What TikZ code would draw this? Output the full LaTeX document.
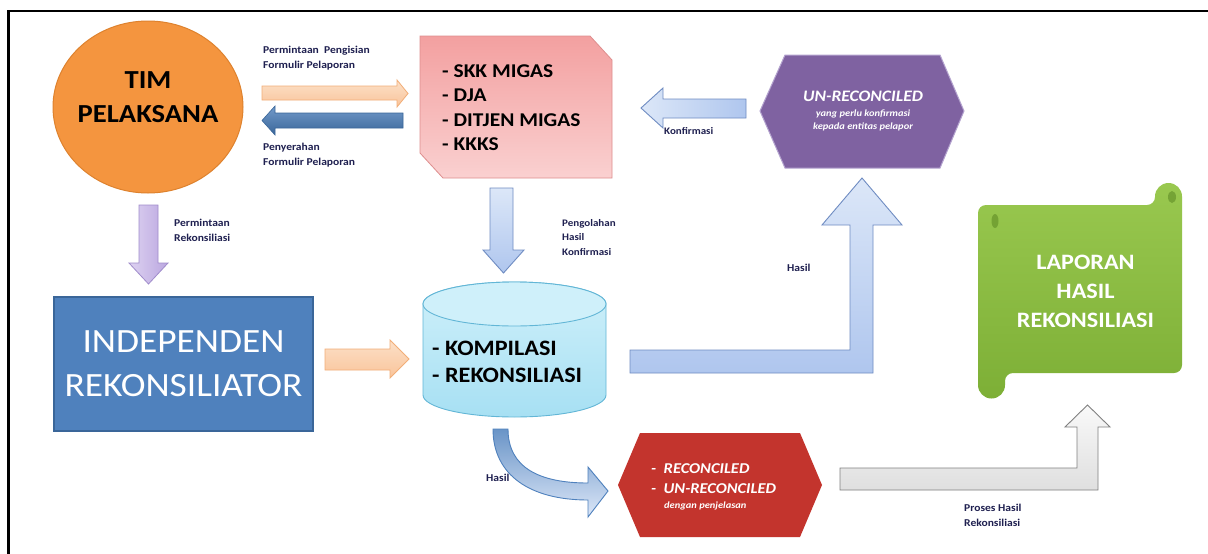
\documentclass[tikz,border=0pt]{standalone}
\usepackage{fontspec}
\setmainfont{Carlito}[FakeStretch=1.1]
\definecolor{lblc}{HTML}{1F2050}
\definecolor{orC}{HTML}{F4953F}
\definecolor{orD}{HTML}{DE822E}
\definecolor{indC}{HTML}{4F81BD}
\definecolor{indD}{HTML}{3A6699}
\definecolor{purC}{HTML}{7F62A1}
\definecolor{purD}{HTML}{B4A3CF}
\definecolor{redC}{HTML}{C3342D}
\definecolor{lbA}{HTML}{DCE7F8}
\definecolor{lbB}{HTML}{AFC6EE}
\definecolor{lbD}{HTML}{6F8CC2}
\definecolor{pcA}{HTML}{FCE0C8}
\definecolor{pcB}{HTML}{F9C49A}
\definecolor{pcD}{HTML}{F2AE78}
\definecolor{lvA}{HTML}{DDD2F1}
\definecolor{lvB}{HTML}{BBA7E0}
\definecolor{lvD}{HTML}{A08CCB}
\definecolor{cyA}{HTML}{CFF0FA}
\definecolor{cyB}{HTML}{A7E0F3}
\definecolor{cyD}{HTML}{62B6D6}
\definecolor{pkA}{HTML}{F3A0A0}
\definecolor{pkB}{HTML}{FAD0D0}
\definecolor{pkD}{HTML}{DE8E8E}
\definecolor{grA}{HTML}{99C84F}
\definecolor{grB}{HTML}{7DAF36}
\definecolor{grD}{HTML}{5F8C26}
\begin{document}
\begin{tikzpicture}[x=1pt,y=-1pt,
  lbl/.style={anchor=north west, inner sep=0pt, align=left, text=lblc, font=\bfseries\fontsize{10.5}{15}\selectfont},
  peach/.style={top color=pcA, bottom color=pcB, draw=pcD, line width=0.8pt},
  bluear/.style={top color=indC!80!white, bottom color=indD, draw=indD, line width=0.6pt},
  lblue/.style={top color=lbA, bottom color=lbB, draw=lbD, line width=0.9pt},
  lav/.style={left color=lvA, right color=lvB, draw=lvD, line width=0.8pt},
  grayar/.style={top color=white!95!gray, bottom color=white!75!gray, draw=gray, line width=0.9pt}]
\useasboundingbox (0,0) rectangle (1208,554);
\fill[white] (0,0) rectangle (1208,554);
\draw[line width=2.5pt, black] (8.7,554) -- (8.7,11.2) -- (1208,11.2);

% TIM PELAKSANA
\draw[fill=orC, draw=orD, line width=1pt] (148,107) ellipse[x radius=95, y radius=86];
\node[font=\bfseries\fontsize{26}{34}\selectfont, align=center, inner sep=0pt] (tim) at (148,97.5) {TIM\\PELAKSANA};

% arrows between TIM and list
\path[peach] (262,86) -- (397,86) -- (397,80) -- (408,93.5) -- (397,107) -- (397,100) -- (262,100) -- cycle;
\path[bluear] (403,113) -- (275,113) -- (275,106) -- (262,120.5) -- (275,135) -- (275,128) -- (403,128) -- cycle;
\node[lbl] (l1) at (263,46) {Permintaan~ Pengisian\\Formulir Pelaporan};
\node[lbl] (l2) at (263,143) {Penyerahan\\Formulir Pelaporan};

% pink box
\path[top color=pkA, bottom color=pkB, draw=pkD, line width=0.8pt]
  (420,36) -- (590,36) -- (612,60) -- (612,178) -- (443,178) -- (420,153) -- cycle;
\node[anchor=north west, inner sep=0pt, align=left, font=\bfseries\fontsize{19.5}{24.3}\selectfont] (list) at (442,64.5)
  {- SKK MIGAS\\- DJA\\- DITJEN MIGAS\\- KKKS};

% purple hexagon
\path[fill=purC, draw=purD, line width=1pt] (760,111) -- (785,55) -- (940,55) -- (964,111) -- (940,168) -- (785,168) -- cycle;
\node[text=white, font=\bfseries\itshape\fontsize{16}{18}\selectfont, inner sep=0pt] (unrec) at (863,96) {UN-RECONCILED};
\node[text=white, font=\bfseries\itshape\fontsize{9.5}{13}\selectfont, align=center, inner sep=0pt] (unrecsub) at (863,120) {yang perlu konfirmasi\\kepada entitas pelapor};

% Konfirmasi arrow
\path[lblue, left color=lbA, right color=lbB] (746,99) -- (663,99) -- (663,88) -- (641,108) -- (663,128) -- (663,118) -- (746,118) -- cycle;
\node[lbl, font=\bfseries\fontsize{10}{14}\selectfont] (lk) at (664,127) {Konfirmasi};

% down arrow pink -> cylinder
\path[lblue] (490,188) -- (513,188) -- (513,250) -- (524,250) -- (503.5,273) -- (483,250) -- (490,250) -- cycle;
\node[lbl, font=\bfseries\fontsize{10}{14.5}\selectfont] (lp) at (562,219) {Pengolahan\\Hasil\\Konfirmasi};

% lavender down arrow
\path[lav] (139,205) -- (158,205) -- (158,263) -- (168,263) -- (148.5,284) -- (129,263) -- (139,263) -- cycle;
\node[lbl] (lr) at (174,219) {Permintaan\\Rekonsiliasi};

% INDEPENDEN box
\node[draw=indD, fill=indC, line width=1.2pt, minimum width=259pt, minimum height=134pt, inner sep=0pt,
  text=white, align=center, font=\fontsize{34}{44}\selectfont] (ind) at (183.5,364) {INDEPENDEN\\REKONSILIATOR};

% orange arrow to cylinder
\path[peach] (325,349) -- (390,349) -- (390,340) -- (409,359) -- (390,378) -- (390,370) -- (325,370) -- cycle;

% cylinder
\path[top color=cyA, bottom color=cyB, draw=cyD, line width=0.9pt]
  (423,304) -- (423,395) arc[start angle=180, end angle=0, x radius=91.5, y radius=22]
  -- (606,304) arc[start angle=0, end angle=-180, x radius=91.5, y radius=22] -- cycle;
\draw[fill=cyA, draw=cyD, line width=0.9pt] (514.5,304) ellipse[x radius=91.5, y radius=22];
\node[anchor=north west, inner sep=0pt, align=left, font=\bfseries\fontsize{22}{27.3}\selectfont] (komp) at (432,341)
  {- KOMPILASI\\- REKONSILIASI};

% big L arrow to purple hexagon
\path[lblue]
  (630,350) -- (850,350) -- (850,225) -- (822,225) -- (862,178) -- (902,225) -- (873,225) -- (873,373) -- (630,373) -- cycle;
\node[lbl] (lh1) at (787,264) {Hasil};

% curved arrow to red hexagon
\path[lblue, top color=indC!85!white, bottom color=lbA, draw=indC]
  (493,429) -- (508,429) .. controls (508,468) and (540,483) .. (588,483) -- (588,467) -- (608,491)
  -- (588,517) -- (588,500) .. controls (530,500) and (493,475) .. (493,429) -- cycle;
\node[lbl] (lh2) at (486,474) {Hasil};

% red hexagon
\path[fill=redC] (618,485) -- (640,433) -- (800,433) -- (822,485) -- (800,537) -- (640,537) -- cycle;
\node[anchor=base west, inner sep=0pt, text=white, font=\bfseries\itshape\fontsize{15}{18}\selectfont] (rec1) at (651,473) {-~ RECONCILED};
\node[anchor=base west, inner sep=0pt, text=white, font=\bfseries\itshape\fontsize{15}{18}\selectfont] (rec2) at (651,493) {-~ UN-RECONCILED};
\node[anchor=base west, inner sep=0pt, text=white, font=\bfseries\itshape\fontsize{9.5}{12}\selectfont] (rec3) at (664,508) {dengan penjelasan};

% gray L arrow to scroll
\path[grayar] (840,468) -- (1077,468) -- (1077,427) -- (1065,427) -- (1087.5,405) -- (1110,427) -- (1098,427) -- (1098,490) -- (840,490) -- cycle;
\node[lbl] (lph) at (964,504) {Proses Hasil\\Rekonsiliasi};

% green scroll
\path[top color=grA, bottom color=grB]
  (978,213) [rounded corners=8pt] -- (978,205) -- (1155,205) [sharp corners] -- (1155,196.5)
  arc[start angle=180, end angle=360, radius=13.5] [rounded corners=8pt] -- (1182,373) -- (1005,373) [sharp corners]
  -- (1005,385) arc[start angle=0, end angle=180, radius=13.5] -- cycle;
\fill[grD, opacity=0.6] (995,221) ellipse[x radius=3.5, y radius=7];
\fill[grD, opacity=0.6] (1172,197) ellipse[x radius=4, y radius=6];
\node[text=white, align=center, font=\bfseries\fontsize{22}{29}\selectfont, inner sep=0pt] (lap) at (1085.5,291)
  {LAPORAN\\HASIL\\REKONSILIASI};
\end{tikzpicture}
\end{document}
